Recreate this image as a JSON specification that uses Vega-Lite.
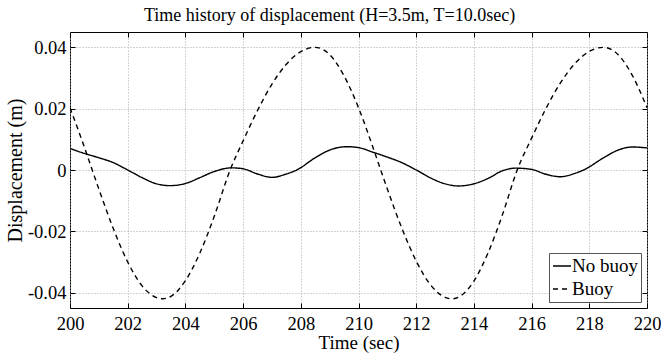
{
  "$schema": "https://vega.github.io/schema/vega-lite/v6.json",
  "autosize": {"type": "none"},
  "width": 577,
  "height": 276,
  "padding": {"left": 70, "top": 32, "right": 14, "bottom": 51},
  "background": "white",
  "title": {
    "text": "Time history of displacement (H=3.5m, T=10.0sec)",
    "font": "Liberation Serif",
    "fontSize": 18,
    "fontWeight": "normal",
    "color": "black",
    "anchor": "middle",
    "offset": 7,
    "dx": -29
  },
  "config": {
    "view": {"stroke": "black", "strokeWidth": 1},
    "font": "Liberation Serif",
    "axis": {
      "labelFont": "Liberation Serif",
      "titleFont": "Liberation Serif",
      "titleFontWeight": "normal",
      "labelColor": "black",
      "titleColor": "black",
      "domain": false,
      "tickColor": "black",
      "gridColor": "#a8a8a8",
      "gridDash": [1, 2],
      "gridWidth": 1,
      "labelFlush": false
    },
    "legend": {
      "labelFont": "Liberation Serif",
      "labelFontSize": 19,
      "labelColor": "black"
    }
  },
  "data": {
    "values": [
      {"t": 200, "v": 0.0070, "s": "No buoy"},
      {"t": 200.5, "v": 0.0054, "s": "No buoy"},
      {"t": 201, "v": 0.0040, "s": "No buoy"},
      {"t": 201.5, "v": 0.0024, "s": "No buoy"},
      {"t": 202, "v": 0.0000, "s": "No buoy"},
      {"t": 202.5, "v": -0.0025, "s": "No buoy"},
      {"t": 203, "v": -0.0045, "s": "No buoy"},
      {"t": 203.45, "v": -0.0051, "s": "No buoy"},
      {"t": 204, "v": -0.0044, "s": "No buoy"},
      {"t": 204.5, "v": -0.0025, "s": "No buoy"},
      {"t": 205, "v": -0.0005, "s": "No buoy"},
      {"t": 205.6, "v": 0.0007, "s": "No buoy"},
      {"t": 206, "v": 0.0004, "s": "No buoy"},
      {"t": 206.5, "v": -0.0013, "s": "No buoy"},
      {"t": 207, "v": -0.0024, "s": "No buoy"},
      {"t": 207.5, "v": -0.0013, "s": "No buoy"},
      {"t": 207.86, "v": 0.0000, "s": "No buoy"},
      {"t": 208.5, "v": 0.0040, "s": "No buoy"},
      {"t": 209, "v": 0.0065, "s": "No buoy"},
      {"t": 209.6, "v": 0.0076, "s": "No buoy"},
      {"t": 210, "v": 0.0073, "s": "No buoy"},
      {"t": 210.5, "v": 0.0058, "s": "No buoy"},
      {"t": 211, "v": 0.0042, "s": "No buoy"},
      {"t": 211.5, "v": 0.0024, "s": "No buoy"},
      {"t": 212, "v": 0.0000, "s": "No buoy"},
      {"t": 212.5, "v": -0.0026, "s": "No buoy"},
      {"t": 213, "v": -0.0045, "s": "No buoy"},
      {"t": 213.45, "v": -0.0052, "s": "No buoy"},
      {"t": 214, "v": -0.0045, "s": "No buoy"},
      {"t": 214.5, "v": -0.0027, "s": "No buoy"},
      {"t": 215, "v": -0.0002, "s": "No buoy"},
      {"t": 215.45, "v": 0.0006, "s": "No buoy"},
      {"t": 216, "v": 0.0002, "s": "No buoy"},
      {"t": 216.5, "v": -0.0014, "s": "No buoy"},
      {"t": 217, "v": -0.0022, "s": "No buoy"},
      {"t": 217.5, "v": -0.0011, "s": "No buoy"},
      {"t": 217.8, "v": 0.0000, "s": "No buoy"},
      {"t": 218.5, "v": 0.0040, "s": "No buoy"},
      {"t": 219, "v": 0.0065, "s": "No buoy"},
      {"t": 219.5, "v": 0.0075, "s": "No buoy"},
      {"t": 220, "v": 0.0072, "s": "No buoy"},
      {"t": 200, "v": 0.0203, "s": "Buoy"},
      {"t": 200.5, "v": 0.0074, "s": "Buoy"},
      {"t": 200.77, "v": 0.0, "s": "Buoy"},
      {"t": 201, "v": -0.0062, "s": "Buoy"},
      {"t": 201.5, "v": -0.0191, "s": "Buoy"},
      {"t": 202, "v": -0.0300, "s": "Buoy"},
      {"t": 202.5, "v": -0.0378, "s": "Buoy"},
      {"t": 203, "v": -0.0416, "s": "Buoy"},
      {"t": 203.2, "v": -0.0420, "s": "Buoy"},
      {"t": 203.5, "v": -0.0412, "s": "Buoy"},
      {"t": 204, "v": -0.0361, "s": "Buoy"},
      {"t": 204.5, "v": -0.0271, "s": "Buoy"},
      {"t": 205, "v": -0.0151, "s": "Buoy"},
      {"t": 205.55, "v": 0.0, "s": "Buoy"},
      {"t": 206, "v": 0.0095, "s": "Buoy"},
      {"t": 206.5, "v": 0.0194, "s": "Buoy"},
      {"t": 207, "v": 0.0280, "s": "Buoy"},
      {"t": 207.5, "v": 0.0345, "s": "Buoy"},
      {"t": 208, "v": 0.0386, "s": "Buoy"},
      {"t": 208.49, "v": 0.0400, "s": "Buoy"},
      {"t": 209, "v": 0.0376, "s": "Buoy"},
      {"t": 209.5, "v": 0.0307, "s": "Buoy"},
      {"t": 210, "v": 0.0203, "s": "Buoy"},
      {"t": 210.5, "v": 0.0074, "s": "Buoy"},
      {"t": 210.77, "v": 0.0, "s": "Buoy"},
      {"t": 211, "v": -0.0062, "s": "Buoy"},
      {"t": 211.5, "v": -0.0189, "s": "Buoy"},
      {"t": 212, "v": -0.0297, "s": "Buoy"},
      {"t": 212.5, "v": -0.0375, "s": "Buoy"},
      {"t": 213, "v": -0.0415, "s": "Buoy"},
      {"t": 213.23, "v": -0.0420, "s": "Buoy"},
      {"t": 213.5, "v": -0.0413, "s": "Buoy"},
      {"t": 214, "v": -0.0362, "s": "Buoy"},
      {"t": 214.5, "v": -0.0268, "s": "Buoy"},
      {"t": 215, "v": -0.0143, "s": "Buoy"},
      {"t": 215.5, "v": 0.0, "s": "Buoy"},
      {"t": 216, "v": 0.0104, "s": "Buoy"},
      {"t": 216.5, "v": 0.0201, "s": "Buoy"},
      {"t": 217, "v": 0.0284, "s": "Buoy"},
      {"t": 217.5, "v": 0.0347, "s": "Buoy"},
      {"t": 218, "v": 0.0387, "s": "Buoy"},
      {"t": 218.49, "v": 0.0400, "s": "Buoy"},
      {"t": 219, "v": 0.0376, "s": "Buoy"},
      {"t": 219.5, "v": 0.0307, "s": "Buoy"},
      {"t": 220, "v": 0.0203, "s": "Buoy"}
    ]
  },
  "layer": [
    {
      "mark": {"type": "line", "color": "black", "strokeWidth": 1.4, "interpolate": "monotone", "clip": true},
      "encoding": {
        "x": {
          "field": "t", "type": "quantitative",
          "scale": {"domain": [200, 220], "nice": false, "zero": false},
          "axis": {
            "title": "Time (sec)",
            "values": [200, 202, 204, 206, 208, 210, 212, 214, 216, 218, 220],
            "format": "d",
            "grid": true,
            "tickSize": -5,
            "labelFlush": false,
            "labelFontSize": 18.5,
            "titleFontSize": 19,
            "labelPadding": 11,
            "titlePadding": 1
          }
        },
        "y": {
          "field": "v", "type": "quantitative",
          "scale": {"domain": [-0.045, 0.045], "nice": false, "zero": false},
          "axis": {
            "title": "Displacement (m)",
            "values": [-0.04, -0.02, 0, 0.02, 0.04],
            "labelExpr": "datum.value == 0 ? '0' : (datum.value < 0 ? '-' + format(-datum.value, '.2f') : format(datum.value, '.2f'))",
            "grid": true,
            "tickSize": -5,
            "labelFlush": false,
            "labelFontSize": 18.5,
            "titleFontSize": 20,
            "labelPadding": 9,
            "titlePadding": 2
          }
        },
        "strokeDash": {
          "field": "s", "type": "nominal",
          "scale": {"domain": ["No buoy", "Buoy"], "range": [[1, 0], [5, 4]]},
          "legend": {
            "title": null,
            "orient": "bottom-right",
            "offset": 6,
            "symbolType": "stroke",
            "symbolSize": 324,
            "symbolStrokeColor": "black",
            "symbolStrokeWidth": 1.4,
            "labelFontSize": 19,
            "labelOffset": 0,
            "rowPadding": 3,
            "padding": 3,
            "fillColor": "white",
            "strokeColor": "#555555"
          }
        }
      }
    },
    {
      "mark": {"type": "point", "opacity": 0},
      "encoding": {
        "x": {
          "field": "t", "type": "quantitative",
          "scale": {"domain": [200, 220], "nice": false, "zero": false},
          "axis": {"orient": "top", "title": null, "labels": false, "grid": false, "tickSize": -5, "values": [200, 202, 204, 206, 208, 210, 212, 214, 216, 218, 220]}
        },
        "y": {
          "field": "v", "type": "quantitative",
          "scale": {"domain": [-0.045, 0.045], "nice": false, "zero": false},
          "axis": {"orient": "right", "title": null, "labels": false, "grid": false, "tickSize": -5, "values": [-0.04, -0.02, 0, 0.02, 0.04]}
        }
      }
    }
  ],
  "resolve": {"axis": {"x": "independent", "y": "independent"}}
}
